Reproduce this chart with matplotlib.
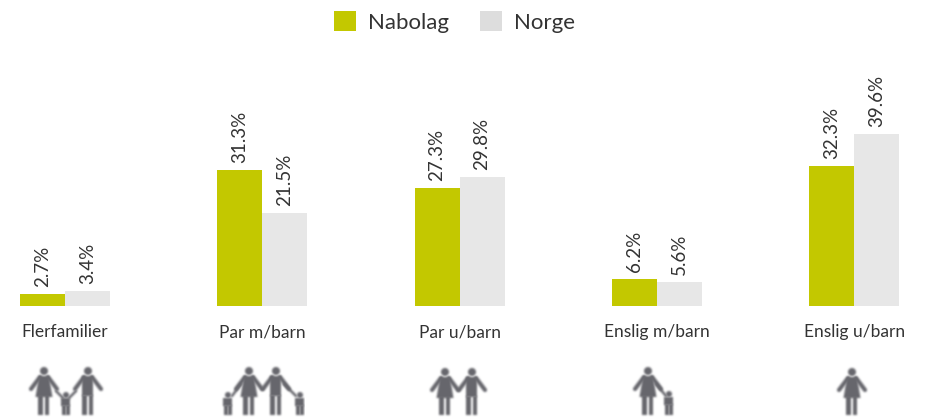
import numpy as np
import matplotlib
matplotlib.use("Agg")
import matplotlib.pyplot as plt
from matplotlib.colors import to_rgb
from matplotlib.patches import Circle, Polygon, Rectangle

plt.rcParams["font.family"] = ["Lato", "DejaVu Sans"]

categories = ["Flerfamilier", "Par m/barn", "Par u/barn", "Enslig m/barn", "Enslig u/barn"]
nabolag = [2.7, 31.3, 27.3, 6.2, 32.3]
norge = [3.4, 21.5, 29.8, 5.6, 39.6]

GREEN = "#c3c800"
GREY = "#e7e7e7"
LEGEND_GREY = "#dddddd"
ICON = "#66666c"
TEXT = "#333333"

W, H = 928, 418
BASE_Y = 306      # pixel row of bar baseline
PX_PER_UNIT = 4.34
FIRST_X = 65
STEP = 197.3
BAR_W = 45 / STEP

# icons: (x, top, bottom, kind), in pixels
icons = [
    (44, 367, 415, "woman"), (88, 367, 415, "man"), (66, 392, 415, "child"),
    (249, 367, 415, "woman"), (276, 367, 415, "man"), (228, 392, 415, "child"), (300, 392, 415, "child"),
    (445, 368, 415, "woman"), (472, 368, 415, "man"),
    (648, 367, 415, "woman"), (669, 391, 415, "child"),
    (852, 368, 415, "woman"),
]
# hand-holding links: (x0, y0, x1, y1), in pixels
links = [
    (56, 391, 63, 398), (76, 391, 69, 398),
    (241, 384, 232, 396), (284, 384, 296, 396),
    (656, 384, 666, 396),
]

fig = plt.figure(figsize=(W / 100, H / 100), dpi=100, facecolor="white")

# -------- Bars --------
ax = fig.add_axes([0, (H - BASE_Y) / H, 1, BASE_Y / H])
ax.set_xlim(-FIRST_X / STEP, (W - FIRST_X) / STEP)
ax.set_ylim(0, BASE_Y / PX_PER_UNIT)
ax.axis("off")

xs = list(range(len(categories)))
ax.bar([x - BAR_W / 2 for x in xs], nabolag, BAR_W, color=GREEN, label="Nabolag")
ax.bar([x + BAR_W / 2 for x in xs], norge, BAR_W, color=GREY, label="Norge")

for x, a, b in zip(xs, nabolag, norge):
    ax.annotate(f"{a}%", (x - BAR_W / 2, a), xytext=(0, 5), textcoords="offset points",
                rotation=90, ha="center", va="bottom", fontsize=13.5, color=TEXT)
    ax.annotate(f"{b}%", (x + BAR_W / 2, b), xytext=(0, 5), textcoords="offset points",
                rotation=90, ha="center", va="bottom", fontsize=13.5, color=TEXT)
    ax.annotate(categories[x], (x, 0), xytext=(0, -19), textcoords="offset points",
                ha="center", va="center", fontsize=12.5, color=TEXT, annotation_clip=False)

leg = ax.legend(loc="upper center", bbox_to_anchor=(0.49, 1.028), ncol=2, frameon=False,
                fontsize=16, handlelength=0.99, handleheight=0.99, handletextpad=0.55,
                columnspacing=1.4, labelcolor=TEXT)
leg.legend_handles[1].set_facecolor(LEGEND_GREY)

# -------- Icons --------
over = fig.add_axes([0, 0, 1, 1])
over.set_xlim(0, W)
over.set_ylim(H, 0)
over.axis("off")
over.patch.set_alpha(0)


def blur(img, dpi):
    # reference icons are upscaled and blurry
    pad = 4
    out = np.pad(img, ((pad, pad), (pad, pad), (0, 0)))
    alpha = out[:, :, 3]
    for _ in range(2):
        for axis in (0, 1):
            alpha = (np.roll(alpha, 1, axis) + 2 * alpha + np.roll(alpha, -1, axis)) / 4
    out[:, :, :3] = to_rgb(ICON)
    out[:, :, 3] = alpha
    return out, -pad, -pad


def soft(patch):
    patch.set_facecolor(ICON)
    patch.set_edgecolor("none")
    patch.set_agg_filter(blur)
    over.add_patch(patch)


def limb(x0, y0, x1, y1, lw):
    line, = over.plot([x0, x1], [y0, y1], color=ICON, lw=lw, solid_capstyle="round")
    line.set_agg_filter(blur)


def person(x, top, bottom, kind):
    if kind == "child":
        soft(Circle((x, top + 3), 3))
        soft(Rectangle((x - 4.5, top + 6), 9, 8))
        soft(Rectangle((x - 4, top + 13), 3.8, bottom - top - 13))
        soft(Rectangle((x + 0.2, top + 13), 3.8, bottom - top - 13))
        return
    soft(Circle((x, top + 4), 4))
    if kind == "woman":
        soft(Polygon([(x - 5, top + 9), (x + 5, top + 9), (x + 8.5, top + 30), (x - 8.5, top + 30)]))
    else:
        soft(Rectangle((x - 5.5, top + 9), 11, 20))
    soft(Rectangle((x - 5.5, top + 28), 4.8, bottom - top - 28))
    soft(Rectangle((x + 0.7, top + 28), 4.8, bottom - top - 28))
    for side in (-1, 1):
        limb(x + side * 4, top + 10, x + side * 13, top + 22, 3)


for x, top, bottom, kind in icons:
    person(x, top, bottom, kind)
for x0, y0, x1, y1 in links:
    limb(x0, y0, x1, y1, 1.8)
# right child in Par m/barn is cut off in the source image
over.add_patch(Rectangle((305, 385), 8, 33, facecolor="white", edgecolor="none", zorder=5))

fig.savefig("out.png", dpi=100, facecolor="white")
